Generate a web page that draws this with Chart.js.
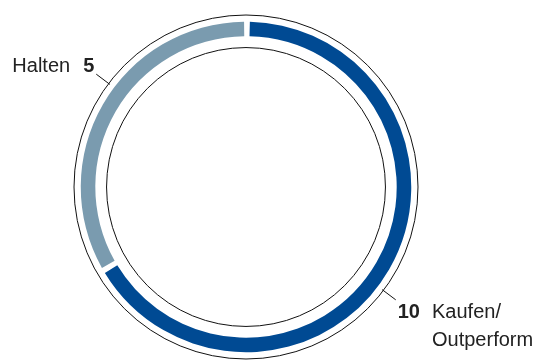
<!DOCTYPE html>
<html>
<head>
<meta charset="utf-8">
<script src="https://cdn.jsdelivr.net/npm/chart.js@4.4.1/dist/chart.umd.min.js"></script>
<style>
  html, body { margin: 0; padding: 0; background: #fff; }
  #wrap { width: 541px; height: 361px; }
</style>
</head>
<body>
<div id="wrap"><canvas id="chartEmpfehlungen" width="541" height="361"></canvas></div>
<script>
// Analystenempfehlungen
var kategorien = ["Kaufen/Outperform", "Halten"];
var labelZeilen = [["Kaufen/", "Outperform"], ["Halten"]];
var anzahl = [10, 5];

var farben = ["rgb(0,74,147)", "rgb(122,155,175)"];

// Kreise + Beschriftung
var ringPlugin = {
    id: 'ringPlugin',
    afterDatasetsDraw: function (chart) {
        var ctx = chart.ctx;
        var meta = chart.getDatasetMeta(0);
        var arc0 = meta.data[0];
        var cx = arc0.x, cy = arc0.y;
        var rOut = arc0.outerRadius, rIn = arc0.innerRadius;

        ctx.save();
        ctx.strokeStyle = '#111';
        ctx.lineWidth = 1;
        ctx.beginPath();
        ctx.arc(cx, cy, rOut + 8.5, 0, Math.PI * 2);
        ctx.stroke();
        ctx.beginPath();
        ctx.arc(cx, cy, rIn - 9.5, 0, Math.PI * 2);
        ctx.stroke();

        var nudge = 7 * Math.PI / 180;
        for (var i = 0; i < meta.data.length; i++) {
            var a = meta.data[i];
            var mid = (a.startAngle + a.endAngle) / 2 + nudge;
            var r1 = rOut + 7, r2 = rOut + 24;
            var x1 = cx + Math.cos(mid) * r1, y1 = cy + Math.sin(mid) * r1;
            var x2 = cx + Math.cos(mid) * r2, y2 = cy + Math.sin(mid) * r2;
            ctx.beginPath();
            ctx.moveTo(x1, y1);
            ctx.lineTo(x2, y2);
            ctx.stroke();

            var wert = String(chart.data.datasets[0].data[i]);
            var zeilen = labelZeilen[i];
            ctx.fillStyle = '#222';
            ctx.textBaseline = 'alphabetic';
            if (Math.cos(mid) >= 0) {
                var tx = x2 + 2, ty = y2 + 18;
                ctx.font = 'bold 20px "Liberation Sans", Arial, sans-serif';
                ctx.textAlign = 'left';
                ctx.fillText(wert, tx, ty);
                var w = ctx.measureText(wert).width;
                ctx.font = '20px "Liberation Sans", Arial, sans-serif';
                for (var z = 0; z < zeilen.length; z++) {
                    ctx.fillText(zeilen[z], tx + w + 12, ty + z * 28);
                }
            } else {
                var tx2 = x2 - 2, ty2 = y2 - 2.5;
                ctx.font = 'bold 20px "Liberation Sans", Arial, sans-serif';
                ctx.textAlign = 'right';
                ctx.fillText(wert, tx2, ty2);
                var w2 = ctx.measureText(wert).width;
                ctx.font = '20px "Liberation Sans", Arial, sans-serif';
                for (var k = 0; k < zeilen.length; k++) {
                    ctx.fillText(zeilen[k], tx2 - w2 - 13, ty2 + k * 28);
                }
            }
        }
        ctx.restore();
    }
};

var ctx1 = document.getElementById('chartEmpfehlungen').getContext('2d');
var chartEmpfehlungen = new Chart(ctx1, {
    type: 'doughnut',
    data: {
        labels: kategorien,
        datasets: [{
            data: anzahl,
            backgroundColor: farben,
            borderWidth: 0,
            spacing: 3.5
        }]
    },
    options: {
        responsive: false,
        animation: false,
        radius: 163.5,
        cutout: '91.1%',
        layout: {
            padding: { left: 70, right: 119, top: 13, bottom: 0 }
        },
        plugins: {
            legend: { display: false },
            tooltip: { enabled: false }
        }
    },
    plugins: [ringPlugin]
});
</script>
</body>
</html>
